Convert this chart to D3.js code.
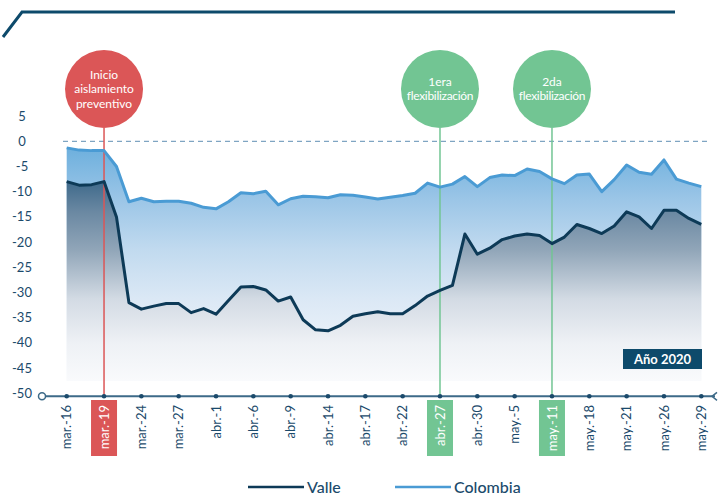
<!DOCTYPE html>
<html lang="es">
<head>
<meta charset="UTF-8">
<title>Valle vs Colombia</title>
<style>
    body { margin: 0; background: #fff; font-family: Lato, "Open Sans", sans-serif; }
    svg { display: block; }
    .ylab, .xlab { font-size: 13px; fill: #1b4a6b; }
    .bubble text { fill: #fff; font-size: 12px; text-anchor: middle; }
    .legend text { font-size: 16px; fill: #1b4a6b; font-weight: 500; }
</style>
</head>
<body>
<div id="chart"></div>
<script src="https://d3js.org/d3.v7.min.js"></script>
<script>
// tick labels, one every 3 points
const tickLabels = ["mar.-16", "mar.-19", "mar.-24", "mar.-27", "abr.-1", "abr.-6", "abr.-9", "abr.-14", "abr.-17",
    "abr.-22", "abr.-27", "abr.-30", "may.-5", "may.-11", "may.-18", "may.-21", "may.-26", "may.-29"];
const tickStep = 3;

const valle = [-8.0, -8.7, -8.6, -8.0, -15.0, -32.0, -33.3, -32.7, -32.2, -32.2,
    -34.0, -33.2, -34.3, -31.6, -28.9, -28.8, -29.5, -31.7, -30.9, -35.4,
    -37.4, -37.6, -36.5, -34.7, -34.2, -33.8, -34.2, -34.2, -32.6, -30.7,
    -29.6, -28.6, -18.4, -22.4, -21.2, -19.5, -18.8, -18.4, -18.7, -20.3,
    -19.0, -16.5, -17.3, -18.3, -16.8, -14.0, -15.0, -17.3, -13.7, -13.7,
    -15.3, -16.5];

const colombia = [-1.3, -1.75, -1.85, -1.85, -5.0, -12.0, -11.3, -12.0, -11.9, -11.9,
    -12.3, -13.1, -13.4, -12.0, -10.2, -10.4, -9.9, -12.6, -11.4, -10.9,
    -11.0, -11.2, -10.6, -10.7, -11.05, -11.45, -11.1, -10.75, -10.3, -8.3,
    -9.1, -8.5, -7.0, -9.0, -7.2, -6.7, -6.8, -5.5, -6.0, -7.45,
    -8.4, -6.7, -6.5, -10.0, -7.6, -4.7, -6.15, -6.55, -3.7, -7.5,
    -8.3, -9.0];

const yTicks = [5, 0, -5, -10, -15, -20, -25, -30, -35, -40, -45, -50];

// events: point index, text lines, colour
const eventIdx = [3, 30, 39];
const eventText = [["Inicio", "aislamiento", "preventivo"], ["1era", "flexibilización"], ["2da", "flexibilización"]];
const eventColor = ["#db5657", "#72c593", "#72c593"];

const W = 718, H = 495;
const svg = d3.select("#chart").append("svg").attr("width", W).attr("height", H);

const x = d3.scaleLinear().domain([0, valle.length - 1]).range([66.7, 701.3]);
const y = d3.scaleLinear().domain([-50, 5]).range([393.3, 116.1]);
const axisY = y(-50) + 3;
const base = -47.5;

// gradients
const defs = svg.append("defs");
const gCol = defs.append("linearGradient").attr("id", "gCol")
    .attr("gradientUnits", "userSpaceOnUse")
    .attr("x1", 0).attr("x2", 0).attr("y1", y(-1)).attr("y2", y(base));
[[0, "#6cafdd"], [0.23, "#9cc6e7"], [0.44, "#c1daef"], [0.65, "#dbe8f5"], [0.84, "#ebf2f9"], [1, "#f7fafd"]]
    .forEach(s => gCol.append("stop").attr("offset", s[0]).attr("stop-color", s[1]));
const gVal = defs.append("linearGradient").attr("id", "gVal")
    .attr("gradientUnits", "userSpaceOnUse")
    .attr("x1", 0).attr("x2", 0).attr("y1", y(-8)).attr("y2", y(base));
[[0, "#3f6a8b"], [0.15, "#6a88a2"], [0.34, "#90a5b8"], [0.59, "#d3dbe4"], [0.81, "#eef1f5"], [1, "#f9fafc"]]
    .forEach(s => gVal.append("stop").attr("offset", s[0]).attr("stop-color", s[1]));

// top decoration
svg.append("path")
    .attr("d", "M3,37 L22,12 L675,12")
    .attr("fill", "none").attr("stroke", "#0d4a6b").attr("stroke-width", 3);

// areas
const area = d3.area().x((d, i) => x(i)).y0(y(base)).y1(d => y(d));
const line = d3.line().x((d, i) => x(i)).y(d => y(d));

svg.append("path").datum(colombia).attr("d", area).attr("fill", "url(#gCol)");
svg.append("path").datum(valle).attr("d", area).attr("fill", "url(#gVal)");

// zero line
svg.append("line")
    .attr("x1", 63).attr("x2", 708).attr("y1", y(0)).attr("y2", y(0))
    .attr("stroke", "#7fa5c2").attr("stroke-width", 1.3).attr("stroke-dasharray", "5,4");

// event lines + bubbles
const cy = 89, r = 39;
eventIdx.forEach((idx, k) => {
    const ex = x(idx);
    svg.append("line")
        .attr("x1", ex).attr("x2", ex).attr("y1", cy + r).attr("y2", axisY)
        .attr("stroke", eventColor[k]).attr("stroke-width", 1.5);
    const g = svg.append("g").attr("class", "bubble");
    g.append("circle").attr("cx", ex).attr("cy", cy).attr("r", r).attr("fill", eventColor[k]);
    const lines = eventText[k];
    const lh = lines.length === 3 ? 14.5 : 13.5;
    lines.forEach((t, j) => {
        g.append("text")
            .attr("x", ex)
            .attr("y", cy + (j - (lines.length - 1) / 2) * lh)
            .attr("dy", "0.35em")
            .style("letter-spacing", t.length > 12 ? "-0.3px" : null)
            .text(t);
    });
});

// series lines
svg.append("path").datum(colombia).attr("d", line)
    .attr("fill", "none").attr("stroke", "#4a9bd4").attr("stroke-width", 3)
    .attr("stroke-linejoin", "round");
svg.append("path").datum(valle).attr("d", line)
    .attr("fill", "none").attr("stroke", "#0d3a57").attr("stroke-width", 3)
    .attr("stroke-linejoin", "round");

// y labels
svg.selectAll(".ylab").data(yTicks).enter().append("text")
    .attr("class", "ylab")
    .attr("x", 22).attr("y", d => y(d)).attr("dy", "0.35em")
    .attr("text-anchor", "middle")
    .text(d => d);

// x axis
svg.append("line")
    .attr("x1", 42).attr("x2", 715).attr("y1", axisY).attr("y2", axisY)
    .attr("stroke", "#3d6a88").attr("stroke-width", 2);
svg.append("circle").attr("cx", 42).attr("cy", axisY).attr("r", 3.5)
    .attr("fill", "#fff").attr("stroke", "#3d6a88").attr("stroke-width", 1.5);
svg.append("path")
    .attr("d", `M717,${axisY - 4} L712,${axisY} L717,${axisY + 4}`)
    .attr("fill", "none").attr("stroke", "#3d6a88").attr("stroke-width", 1.5);

const tickIdx = tickLabels.map((t, i) => i * tickStep);
svg.selectAll(".tdot").data(tickIdx).enter().append("circle")
    .attr("cx", d => x(d)).attr("cy", axisY).attr("r", 2.3).attr("fill", "#1b4a6b");

// highlighted label boxes
eventIdx.forEach((idx, k) => {
    svg.append("rect")
        .attr("x", x(idx) - 13).attr("y", 400).attr("width", 26).attr("height", 56)
        .attr("fill", eventColor[k]);
});

svg.selectAll(".xlab").data(tickLabels).enter().append("text")
    .attr("class", "xlab")
    .attr("transform", (d, i) => `translate(${x(i * tickStep)},405) rotate(-90)`)
    .attr("text-anchor", "end")
    .attr("dy", "0.35em")
    .style("fill", (d, i) => eventIdx.includes(i * tickStep) ? "#fff" : null)
    .text(d => d);

// year tag
svg.append("rect").attr("x", 623).attr("y", 349).attr("width", 79).attr("height", 20).attr("fill", "#0d4a6b");
svg.append("text").attr("x", 662.5).attr("y", 359).attr("dy", "0.35em")
    .attr("text-anchor", "middle").attr("fill", "#fff")
    .style("font-size", "13px").style("font-weight", "bold")
    .text("Año 2020");

// legend
const legend = svg.append("g").attr("class", "legend");
const legItems = [["Valle", "#0d3a57", 248], ["Colombia", "#4a9bd4", 395]];
legItems.forEach(d => {
    legend.append("line").attr("x1", d[2]).attr("x2", d[2] + 56).attr("y1", 487).attr("y2", 487)
        .attr("stroke", d[1]).attr("stroke-width", 2.5);
    legend.append("text").attr("x", d[2] + 59).attr("y", 487).attr("dy", "0.35em").text(d[0]);
});
</script>
</body>
</html>
